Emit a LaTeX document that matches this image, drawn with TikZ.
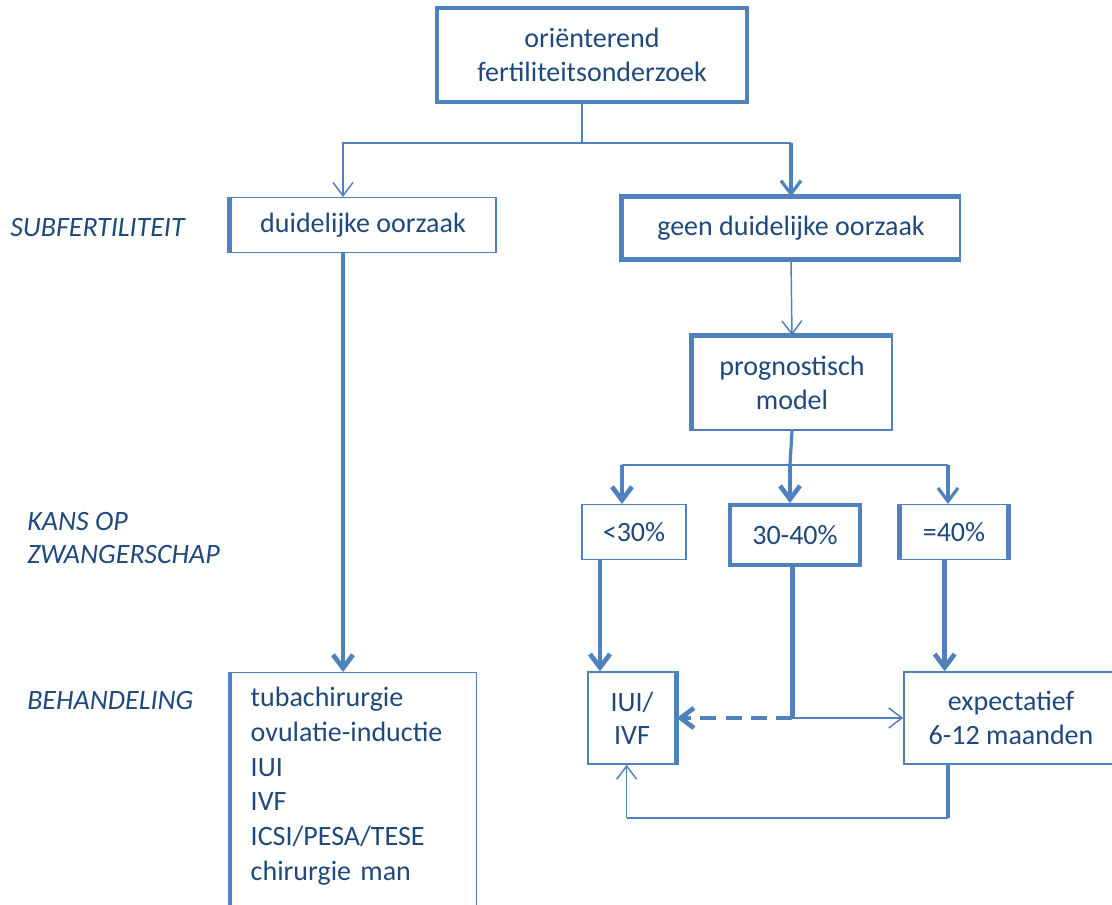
\documentclass[tikz,border=0pt]{standalone}
\usepackage{fontspec}
\setmainfont{Carlito}
\usetikzlibrary{arrows.meta}
\definecolor{lineblue}{HTML}{4F81BD}
\definecolor{textblue}{HTML}{1F497D}
\tikzset{
  box/.style={draw=lineblue, line width=1.1pt, fill=white, text=textblue, inner sep=0pt,
    align=center, font=\fontsize{21}{25}\selectfont},
  boldbox/.style={box, line width=3pt},
  side/.style={draw=lineblue, line width=3.5pt},
  rowlabel/.style={text=textblue, font=\fontsize{21}{25}\selectfont\itshape, anchor=west,
    align=left, inner sep=0pt},
  link/.style={draw=lineblue, line width=1.1pt},
  medium/.style={draw=lineblue, line width=2.4pt},
  heavy/.style={draw=lineblue, line width=3.5pt},
  tip/.style={-{Straight Barb[length=10pt,width=15pt]}},
}
\begin{document}
\begin{tikzpicture}[x=0.75pt,y=-0.75pt]
  \useasboundingbox (0,0) rectangle (1112,904);
  \clip (0,0) rectangle (1112,904);

  % row labels
  \node[rowlabel] (sub) at (10,228) {SUBFERTILITEIT};
  \node[rowlabel] (kans) at (27,538) {KANS OP\\ZWANGERSCHAP};
  \node[rowlabel] (behlabel) at (27,700) {BEHANDELING};

  % boxes
  \node[boldbox, minimum width=233pt, minimum height=70.5pt] (top) at (592,55)
    {oriënterend\\fertiliteitsonderzoek};
  \node[box, minimum width=199.5pt, minimum height=41pt] (ld) at (363,225) {duidelijke oorzaak};
  \node[box, minimum width=253.5pt, minimum height=46pt] (geen) at (791,228) {geen duidelijke oorzaak};
  \node[box, minimum width=150pt, minimum height=70.5pt] (prog) at (792,383) {prognostisch\\model};
  \node[box, minimum width=78pt, minimum height=41pt] (low) at (634,532) {<30\%};
  \node[boldbox, minimum width=97.5pt, minimum height=45pt] (mid) at (795,535) {30-40\%};
  \node[box, minimum width=81pt, minimum height=41pt] (high) at (954,532) {=40\%};
  \node[box, minimum width=66pt, minimum height=69pt] (iui) at (632,718) {IUI/\\IVF};
  \node[box, minimum width=160.5pt, minimum height=69pt] (expect) at (1011,718)
    {expectatief\\6-12 maanden};
  \node[box, anchor=north west, inner xsep=15pt, inner ysep=11pt, text width=154.5pt,
    align=left, font=\fontsize{21}{26}\selectfont] (beh) at (230,672)
    {tubachirurgie\\ovulatie-inductie\\IUI\\IVF\\ICSI/PESA/TESE\\chirurgie man\\[12pt]\mbox{}};

  % heavy sides
  \draw[side] (ld.north west) -- (ld.south west);
  \draw[side] (geen.north east) -- (geen.north west) -- (geen.south west) -- (geen.south east);
  \draw[side] (prog.south west) -- (prog.north west) -- (prog.north east);
  \draw[side] (high.north west) -- (high.south west);
  \draw[side] (high.north east) -- (high.south east);
  \draw[side] (iui.north east) -- (iui.south east);
  \draw[side] (beh.north west) -- (beh.south west);

  % first split
  \coordinate (split1) at (582,143);
  \draw[link] (top.south -| split1) -- (split1);
  \draw[link,tip] (split1) -| ([xshift=-15pt]ld.north);
  \draw[link] (split1) -- (split1 -| geen.north);
  \draw[medium,tip] (split1 -| geen.north) -- (geen.north);
  \draw[link,tip] (geen.south) -- (prog.north);

  % second split
  \coordinate (split2) at (790,465);
  \coordinate (lowin) at ([xshift=-9pt]low.north);
  \coordinate (highin) at ([xshift=-4.5pt]high.north);
  \draw[medium] (prog.south) -- (split2);
  \draw[link] (lowin |- split2) -- (highin |- split2);
  \draw[heavy,tip] (lowin |- split2) -- (lowin);
  \draw[heavy,tip] (split2) -- (split2 |- mid.north);
  \draw[medium,tip] (highin |- split2) -- (highin);

  % treatments
  \coordinate (iuiin) at ([xshift=-24pt]iui.north);
  \draw[heavy,tip] (low.south -| iuiin) -- (iuiin);
  \coordinate (split3) at ([xshift=-2pt]mid.south |- expect.west);
  \draw[heavy] (split3 |- mid.south) -- (split3);
  \draw[link,tip] (split3) -- (expect.west);
  \draw[heavy,dash pattern=on 12pt off 7pt,tip] (split3) -- (iui.east);
  \coordinate (highout) at ([xshift=-7pt]high.south);
  \draw[heavy,tip] (highout) -- (highout |- expect.north);
  \coordinate (ret) at (948,818);
  \draw[heavy] (expect.south -| ret) -- (ret);
  \draw[link] (ret) -| ([xshift=-4pt]iui.south |- ret);
  \draw[link,tip] ([xshift=-4pt]iui.south |- ret) -- ([xshift=-4pt]iui.south);
  \draw[heavy,tip] ([xshift=-15pt]ld.south) -- ([xshift=-15pt]ld.south |- beh.north);
\end{tikzpicture}
\end{document}
